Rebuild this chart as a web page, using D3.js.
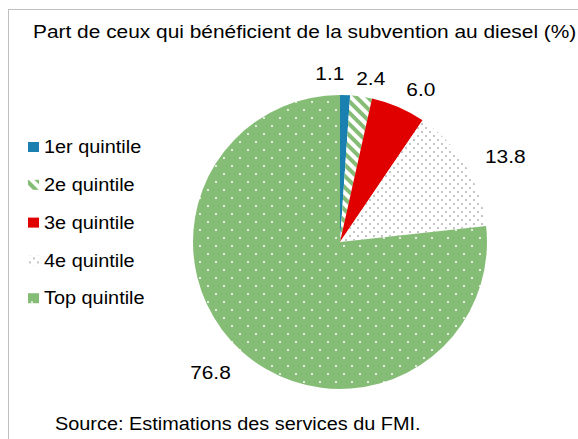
<!DOCTYPE html>
<html>
<head>
<meta charset="utf-8">
<script src="https://cdn.jsdelivr.net/npm/d3@7"></script>
<style>
  body { margin: 0; background: #ffffff; }
  text { font-family: "Liberation Sans", Arial, sans-serif; fill: #000; }
</style>
</head>
<body>
<div id="chart"></div>
<script>
// part des bénéficiaires par quintile (%)
const categories = ["1er quintile", "2e quintile", "3e quintile", "4e quintile", "Top quintile"];
const values = [1.1, 2.4, 6.0, 13.8, 76.8];
const labels = ["1.1", "2.4", "6.0", "13.8", "76.8"];
const title = "Part de ceux qui bénéficient de la subvention au diesel (%)";
const source = "Source: Estimations des services du FMI.";

window.onload = function () {
  const width = 578;
  const height = 439;
  const cx = 340, cy = 242, radius = 147;
  const stretch = 1.13; // text in the original is a bit wide

  const svg = d3.select("#chart")
    .append("svg")
    .attr("width", width)
    .attr("height", height);

  const defs = svg.append("defs");

  // diagonal green stripes
  const stripes = defs.append("pattern")
    .attr("id", "stripes")
    .attr("patternUnits", "userSpaceOnUse")
    .attr("width", 8).attr("height", 8)
    .attr("patternTransform", "rotate(-45)");
  stripes.append("rect").attr("width", 8).attr("height", 8).attr("fill", "#ffffff");
  stripes.append("rect").attr("width", 4).attr("height", 8).attr("fill", "#86bd76");

  // small grey dots on white
  const greyDots = defs.append("pattern")
    .attr("id", "greyDots")
    .attr("patternUnits", "userSpaceOnUse")
    .attr("width", 8).attr("height", 8);
  greyDots.append("rect").attr("width", 8).attr("height", 8).attr("fill", "#ffffff");
  greyDots.append("circle").attr("cx", 2).attr("cy", 2).attr("r", 1).attr("fill", "#b0b0b0");
  greyDots.append("circle").attr("cx", 6).attr("cy", 6).attr("r", 1).attr("fill", "#b0b0b0");

  // white dots on green
  const greenDots = defs.append("pattern")
    .attr("id", "greenDots")
    .attr("patternUnits", "userSpaceOnUse")
    .attr("width", 16).attr("height", 16);
  greenDots.append("rect").attr("width", 16).attr("height", 16).attr("fill", "#86bd76");
  greenDots.append("circle").attr("cx", 4).attr("cy", 4).attr("r", 1).attr("fill", "#ffffff");
  greenDots.append("circle").attr("cx", 12).attr("cy", 12).attr("r", 1).attr("fill", "#ffffff");

  const fills = ["#1a80b0", "url(#stripes)", "#e00000", "url(#greyDots)", "url(#greenDots)"];

  // frame (only top and left edges show)
  svg.append("rect")
    .attr("x", 8.5).attr("y", 9.5)
    .attr("width", 600).attr("height", 600)
    .attr("fill", "none")
    .attr("stroke", "#bfbfbf")
    .attr("stroke-width", 1);

  const putText = (parent, x, y, str, size, anchor = "start") =>
    parent.append("text")
      .attr("transform", `translate(${x},${y}) scale(${stretch},1)`)
      .attr("dy", "0.35em")
      .attr("text-anchor", anchor)
      .style("font-size", size)
      .text(str);

  putText(svg, 33, 32, title, "18.5px");

  const pie = d3.pie().sort(null)(values);
  const arc = d3.arc().innerRadius(0).outerRadius(radius);

  const g = svg.append("g").attr("transform", `translate(${cx},${cy})`);

  g.selectAll("path")
    .data(pie)
    .enter()
    .append("path")
    .attr("d", arc)
    .attr("fill", (d, i) => fills[i]);

  // label placement: radius and nudges per slice
  const labelRadius = [169, 165, 166, 166, 176];
  const labelNudge = [-16, 7, 15, 23, -12];

  pie.forEach((d, i) => {
    const a = (d.startAngle + d.endAngle) / 2;
    const x = Math.sin(a) * labelRadius[i] + labelNudge[i];
    const y = -Math.cos(a) * labelRadius[i];
    putText(g, x, y, labels[i], "18.5px", "middle");
  });

  // legend
  const legend = svg.append("g").attr("transform", "translate(28,147)");
  const rowH = 37.8;
  categories.forEach((c, i) => {
    const row = legend.append("g").attr("transform", `translate(0,${i * rowH})`);
    row.append("rect")
      .attr("x", 0).attr("y", -5)
      .attr("width", 11).attr("height", 10)
      .attr("fill", fills[i]);
    putText(row, 16, 0, c, "17.6px");
  });

  putText(svg, 55, 424, source, "17.6px");
};
</script>
</body>
</html>
